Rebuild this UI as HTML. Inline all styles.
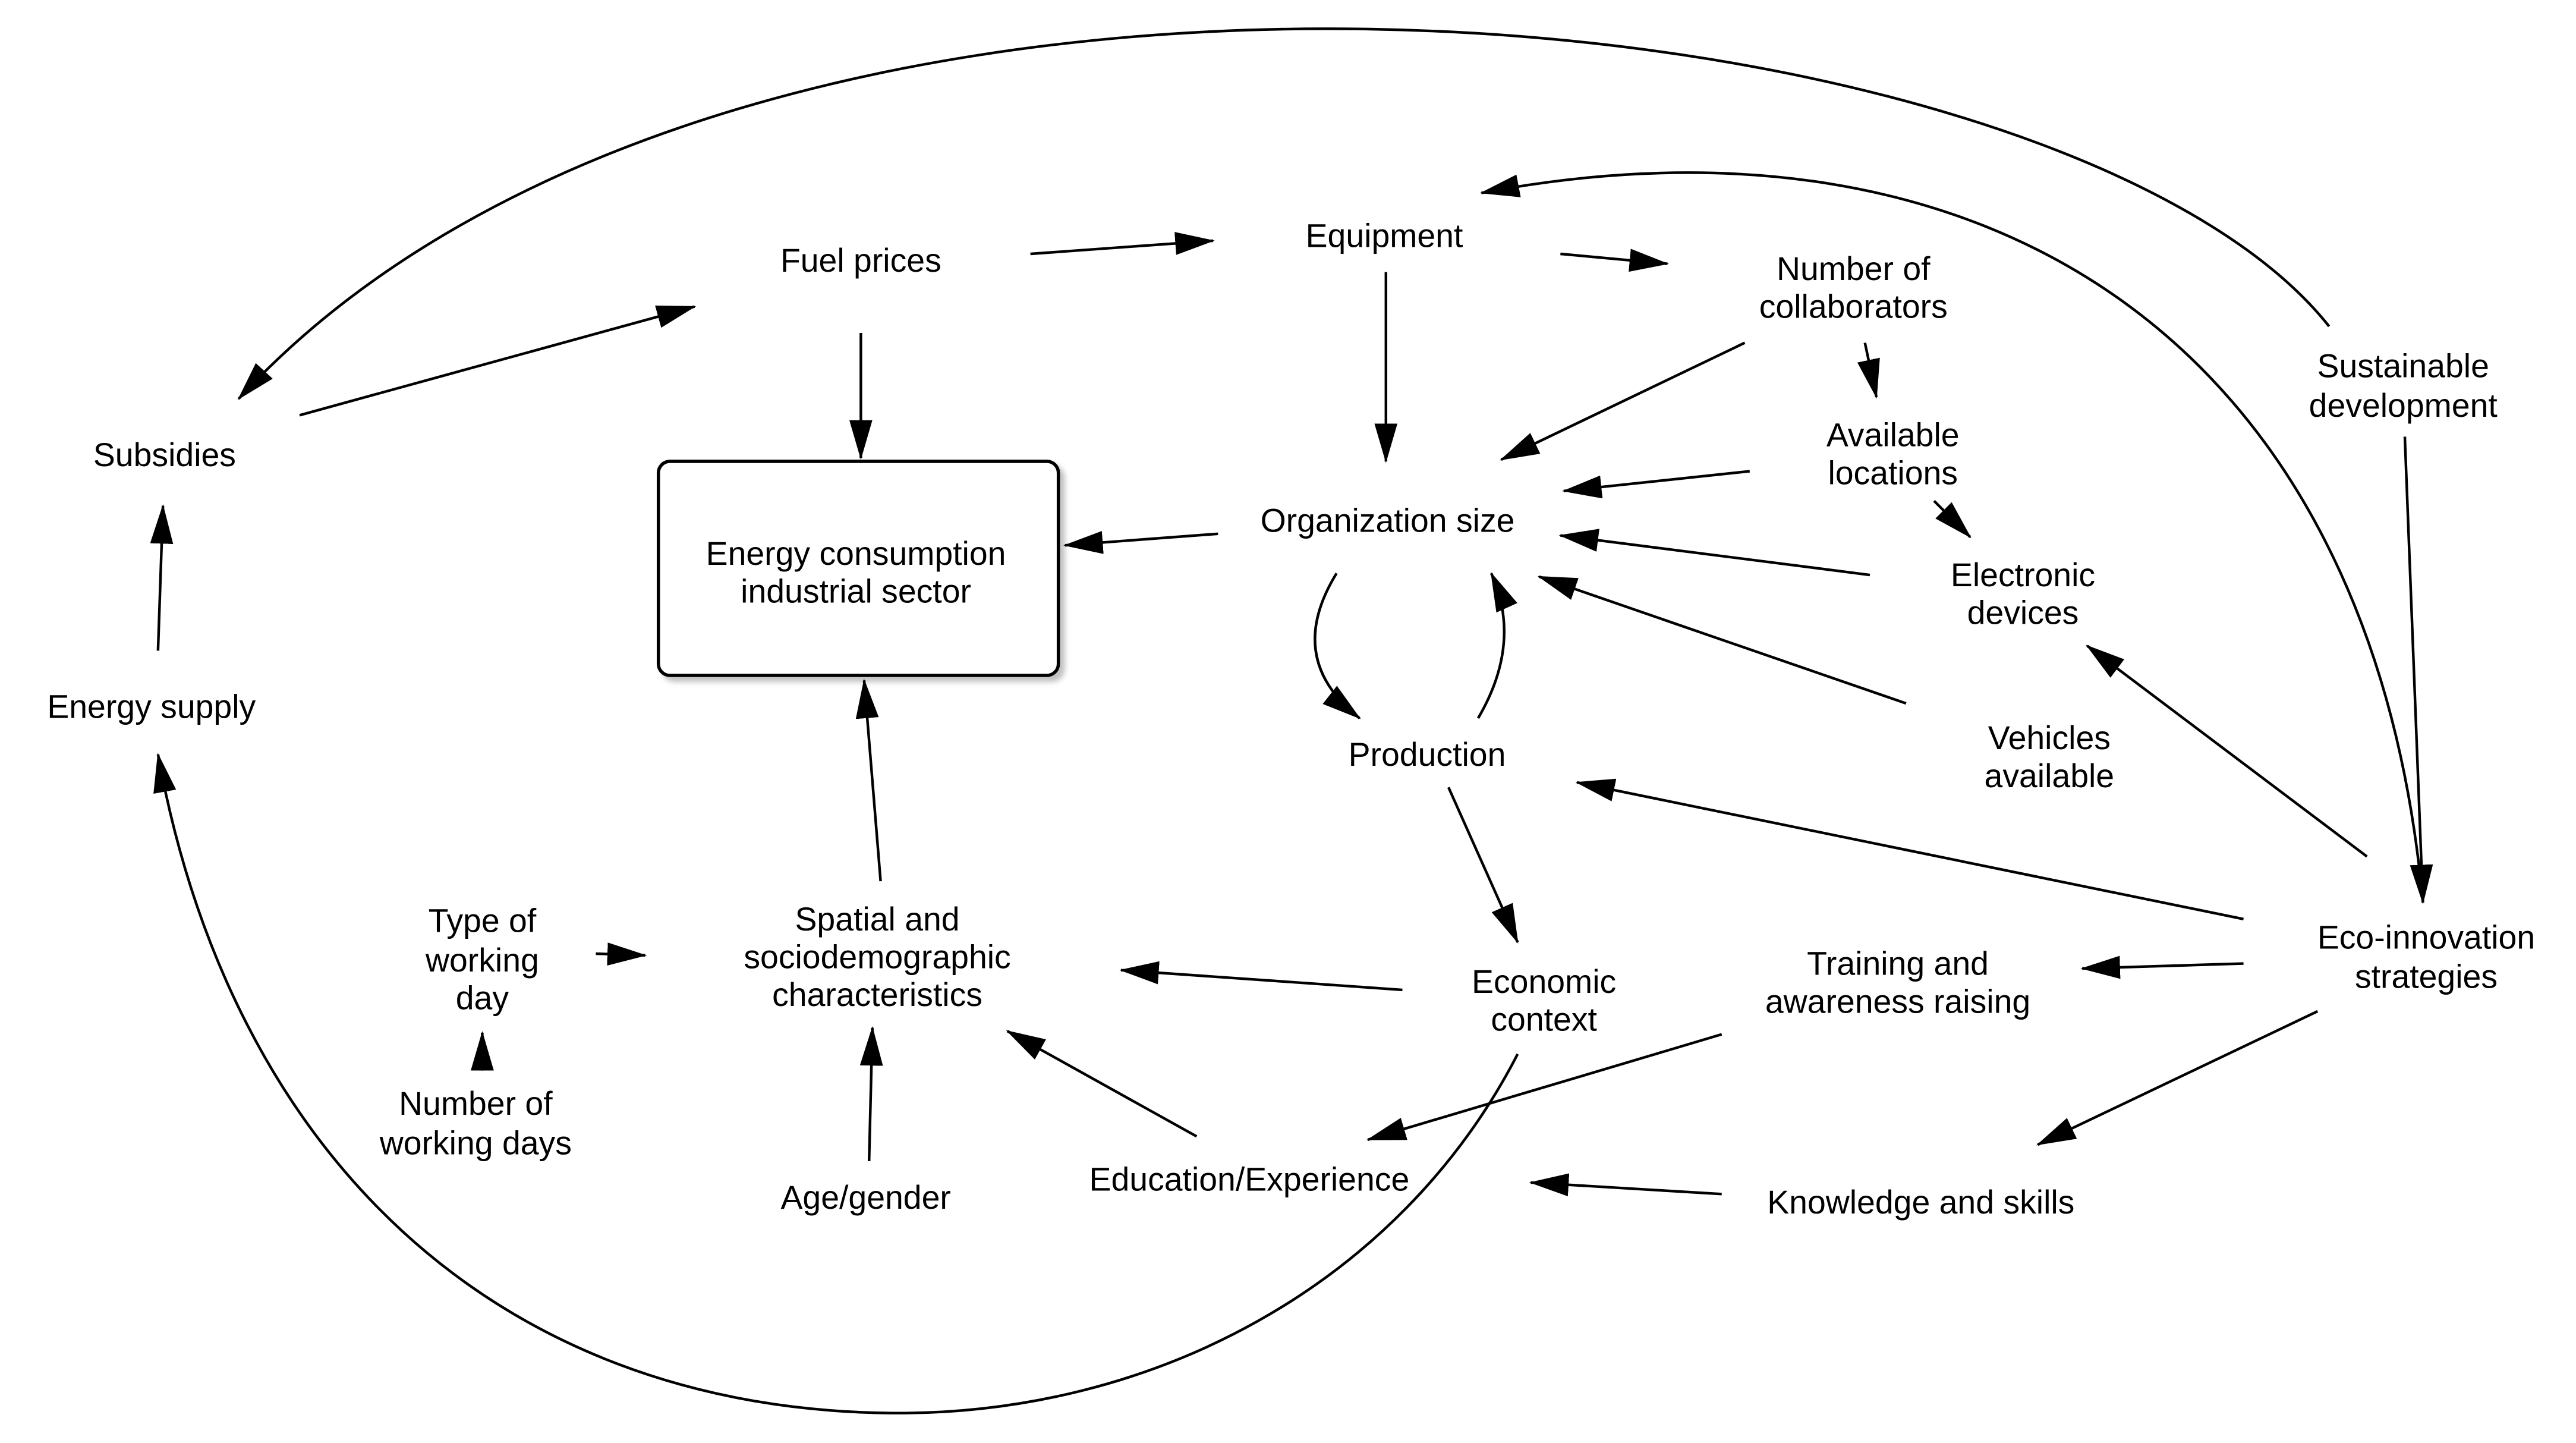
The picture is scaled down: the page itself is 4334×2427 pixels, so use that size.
<!DOCTYPE html>
<html><head><meta charset="utf-8"><style>
html,body{margin:0;padding:0;background:#fff;}
svg{display:block;}
text{font-family:"Liberation Sans",sans-serif;font-size:20px;fill:#000;text-anchor:middle;dominant-baseline:central;}
</style></head><body>
<svg width="4334" height="2427" viewBox="0 0 1565 876" xmlns="http://www.w3.org/2000/svg">
<defs>
<marker id="a" markerWidth="24" markerHeight="14" refX="23" refY="7" orient="auto" markerUnits="userSpaceOnUse">
<path d="M0,0 L24,7 L0,14 z" fill="#000"/>
</marker>
<filter id="sh" x="-10%" y="-10%" width="130%" height="130%"><feDropShadow dx="3" dy="3" stdDeviation="1.5" flood-color="#999" flood-opacity="0.6"/></filter>
</defs>
<rect x="400" y="280" width="243" height="130" rx="7" fill="#fff" stroke="#000" stroke-width="2" filter="url(#sh)"/>
<g stroke="#000" stroke-width="1.6" fill="none" marker-end="url(#a)">
<line x1="182" y1="252" x2="422" y2="186"/>
<line x1="626" y1="154" x2="737" y2="146"/>
<line x1="523" y1="202" x2="523" y2="278"/>
<line x1="948" y1="154" x2="1013" y2="160"/>
<line x1="842" y1="165" x2="842" y2="280"/>
<line x1="1060" y1="208" x2="912" y2="279"/>
<line x1="1133" y1="208" x2="1140" y2="241"/>
<line x1="1063" y1="286" x2="950" y2="298"/>
<line x1="1175" y1="304" x2="1197" y2="326"/>
<line x1="1136" y1="349" x2="948" y2="325"/>
<line x1="1158" y1="427" x2="935" y2="350"/>
<line x1="740" y1="324" x2="647" y2="331"/>
<path d="M812,348 Q780,400 826,436"/>
<path d="M898,436 Q925,390 906,348"/>
<line x1="880" y1="478" x2="922" y2="572"/>
<line x1="852" y1="601" x2="681" y2="589"/>
<line x1="535" y1="535" x2="525" y2="413"/>
<line x1="362" y1="579" x2="392" y2="580"/>
<line x1="293" y1="650" x2="293" y2="627"/>
<line x1="528" y1="705" x2="530" y2="624"/>
<line x1="727" y1="690" x2="612" y2="626"/>
<line x1="1046" y1="628" x2="831" y2="692"/>
<line x1="1046" y1="725" x2="930" y2="718"/>
<line x1="1363" y1="585" x2="1265" y2="588"/>
<line x1="1408" y1="614" x2="1238" y2="695"/>
<line x1="1363" y1="558" x2="958" y2="475"/>
<line x1="1438" y1="520" x2="1268" y2="392"/>
<line x1="1461" y1="265" x2="1472" y2="548"/>
<line x1="96" y1="395" x2="99" y2="307"/>
<path d="M1415,198 C1250,-10 450,-90 145,242"/>
<path d="M1472,548 C1440,200 1200,60 900,117"/>
<path d="M922,640 C850,780 700,860 540,858 C300,855 140,700 96,458"/>
</g>
<text x="523" y="158">Fuel prices</text>
<text x="841" y="143">Equipment</text>
<text x="1126" y="163">Number of</text><text x="1126" y="186">collaborators</text>
<text x="1460" y="222">Sustainable</text><text x="1460" y="246">development</text>
<text x="100" y="276">Subsidies</text>
<text x="1150" y="264">Available</text><text x="1150" y="287">locations</text>
<text x="843" y="316">Organization size</text>
<text x="520" y="336">Energy consumption</text><text x="520" y="359">industrial sector</text>
<text x="1229" y="349">Electronic</text><text x="1229" y="372">devices</text>
<text x="92" y="429">Energy supply</text>
<text x="867" y="458">Production</text>
<text x="1245" y="448">Vehicles</text><text x="1245" y="471">available</text>
<text x="293" y="559">Type of</text><text x="293" y="583">working</text><text x="293" y="606">day</text>
<text x="533" y="558">Spatial and</text><text x="533" y="581">sociodemographic</text><text x="533" y="604">characteristics</text>
<text x="938" y="596">Economic</text><text x="938" y="619">context</text>
<text x="1153" y="585">Training and</text><text x="1153" y="608">awareness raising</text>
<text x="1474" y="569">Eco-innovation</text><text x="1474" y="593">strategies</text>
<text x="289" y="670">Number of</text><text x="289" y="694">working days</text>
<text x="526" y="727">Age/gender</text>
<text x="759" y="716">Education/Experience</text>
<text x="1167" y="730">Knowledge and skills</text>
</svg>
</body></html>
